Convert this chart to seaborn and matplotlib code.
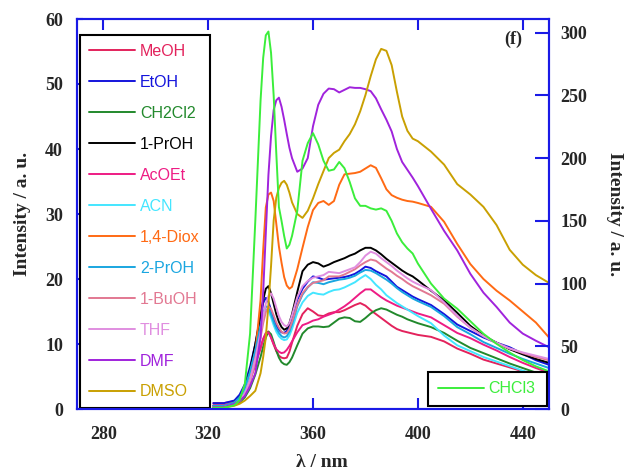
import matplotlib
matplotlib.use("Agg")
import matplotlib.pyplot as plt
import seaborn as sns

# Emission wavelength grid (nm)
wavelength = [322, 326, 330, 332, 334, 336, 338, 340, 341, 342,
              343, 344, 345, 346, 347, 348, 349, 350, 351, 352,
              354, 356, 358, 360, 362, 364, 366, 368, 370, 372,
              374, 376, 378, 380, 382, 384, 386, 388, 390, 392,
              394, 396, 398, 400, 405, 410, 415, 420, 425, 430,
              435, 440, 445, 450]

# Emission intensities (left axis, a.u.)
meoh = [0.9, 0.9, 1.2, 1.8, 2.8, 4.6, 7.0, 9.5, 10.8, 11.7,
        11.9, 11.0, 9.9, 8.9, 8.2, 7.9, 7.8, 7.9, 8.8, 10.2,
        12.8, 14.6, 15.5, 15.0, 14.4, 14.3, 14.7, 14.9, 14.9, 15.2,
        15.6, 16.0, 16.3, 15.9, 15.2, 14.6, 14.0, 13.4, 12.8, 12.3,
        12.0, 11.8, 11.6, 11.4, 11.1, 10.4, 9.3, 8.5, 7.6, 7.0,
        6.4, 5.8, 5.2, 4.7]
etoh = [0.9, 0.9, 1.3, 2.2, 3.8, 6.5, 10.0, 14.0, 16.3, 17.1,
        16.5, 15.2, 13.9, 12.9, 12.2, 11.8, 11.7, 12.0, 12.8, 14.0,
        16.8, 18.5, 19.6, 20.4, 20.2, 19.9, 20.0, 20.1, 20.2, 20.3,
        20.5, 20.8, 21.3, 21.9, 21.7, 21.2, 20.8, 20.4, 19.6, 18.8,
        18.3, 17.8, 17.3, 16.9, 16.0, 14.6, 13.0, 12.0, 11.0, 10.2,
        9.5, 8.5, 7.5, 6.8]
ch2cl2 = [0.3, 0.3, 0.6, 1.0, 1.8, 3.2, 5.3, 8.0, 9.6, 11.0,
          11.9, 11.5, 10.3, 9.0, 7.9, 7.2, 6.9, 6.8, 7.2, 7.9,
          9.8, 11.6, 12.4, 12.7, 12.7, 12.6, 12.7, 13.3, 13.9, 14.1,
          14.0, 13.5, 13.4, 14.0, 14.7, 15.2, 15.5, 15.3, 14.9, 14.5,
          14.2, 13.8, 13.5, 13.2, 12.6, 11.7, 10.5, 9.4, 8.6, 7.8,
          7.0, 6.3, 5.6, 5.0]
propanol1 = [0.5, 0.5, 1.0, 1.8, 3.2, 6.0, 10.0, 14.5, 16.8, 18.5,
             18.9, 17.8, 16.2, 14.6, 13.4, 12.6, 12.2, 12.4, 13.2, 14.6,
             18.0, 21.2, 22.2, 22.6, 22.4, 21.9, 22.2, 22.6, 22.9, 23.2,
             23.6, 23.9, 24.4, 24.8, 24.8, 24.4, 23.8, 23.1, 22.5, 21.9,
             21.3, 20.8, 20.4, 19.8, 18.2, 16.7, 14.8, 12.8, 11.3, 10.2,
             9.2, 8.4, 7.7, 7.1]
acoet = [0.6, 0.6, 1.0, 1.6, 2.6, 4.4, 6.8, 9.3, 10.7, 11.6,
         11.8, 11.0, 10.0, 9.2, 8.8, 8.6, 8.7, 9.1, 9.7, 10.4,
         11.8, 12.9, 13.2, 13.6, 13.8, 14.2, 14.5, 14.8, 15.3, 15.8,
         16.4, 17.1, 17.8, 18.4, 18.4, 17.8, 17.2, 16.7, 16.3, 15.9,
         15.6, 15.3, 15.0, 14.7, 14.1, 12.9, 11.7, 10.9, 9.9, 9.0,
         8.0, 7.1, 6.3, 5.6]
acn = [0.4, 0.4, 0.9, 1.6, 3.0, 5.5, 8.8, 12.5, 14.3, 15.3,
       15.1, 14.1, 12.9, 11.9, 11.2, 10.8, 10.6, 10.7, 11.3, 12.3,
       14.8, 16.4, 17.4, 17.9, 17.7, 17.6, 18.0, 18.3, 18.4, 18.7,
       19.1, 19.5, 20.1, 20.6, 20.0, 19.1, 18.4, 17.5, 16.9, 16.3,
       15.8, 15.3, 14.8, 14.3, 13.2, 11.3, 9.8, 8.9, 8.0, 7.3,
       6.6, 5.9, 5.3, 4.8]
dioxane = [0.3, 0.4, 0.8, 1.3, 2.2, 4.2, 8.5, 16.8, 24.5, 31.0,
           33.0, 33.3, 32.0, 28.5, 25.0, 22.5, 20.3, 19.0, 18.5, 18.8,
           21.5, 24.8, 28.0, 30.6, 31.7, 32.0, 31.4, 32.0, 34.5, 36.1,
           36.2, 36.3, 36.5, 37.0, 37.5, 37.1, 35.5, 33.8, 32.9, 32.5,
           32.2, 32.0, 31.9, 31.7, 31.1, 28.8, 25.4, 22.3, 20.0, 18.2,
           16.7, 15.0, 13.3, 11.0]
propanol2 = [0.5, 0.5, 1.0, 1.8, 3.2, 5.8, 9.0, 12.8, 14.8, 15.8,
             15.6, 14.6, 13.4, 12.4, 11.7, 11.2, 11.0, 11.2, 11.9, 13.0,
             15.8, 17.6, 18.7, 19.5, 19.4, 19.2, 19.5, 19.7, 19.9, 20.0,
             20.2, 20.5, 21.0, 21.4, 21.3, 20.9, 20.4, 19.9, 19.3, 18.6,
             18.0, 17.5, 17.0, 16.6, 15.7, 14.3, 12.6, 11.5, 10.3, 9.4,
             8.5, 7.7, 7.0, 6.3]
butanol1 = [0.3, 0.3, 0.7, 1.2, 2.2, 4.2, 7.2, 11.0, 13.2, 14.9,
            15.8, 15.4, 14.4, 13.3, 12.5, 11.9, 11.6, 11.7, 12.3, 13.4,
            16.0, 17.8, 18.8, 19.4, 19.6, 19.8, 20.4, 20.4, 20.4, 20.7,
            21.1, 21.5, 22.1, 22.6, 23.0, 22.8, 22.2, 21.6, 21.1, 20.5,
            20.0, 19.4, 18.9, 18.5, 17.5, 16.2, 14.2, 12.5, 11.2, 10.1,
            9.3, 8.6, 8.0, 7.5]
thf = [0.3, 0.3, 0.7, 1.3, 2.4, 4.5, 7.8, 11.8, 14.2, 16.2,
       17.4, 17.8, 17.0, 15.6, 14.3, 13.4, 12.9, 12.7, 13.2, 14.4,
       17.2, 18.9, 19.7, 20.2, 20.4, 20.6, 21.1, 21.0, 20.9, 21.2,
       21.5, 21.8, 22.6, 23.6, 24.2, 23.9, 23.2, 22.6, 22.0, 21.3,
       20.7, 20.1, 19.6, 19.2, 18.3, 16.4, 14.3, 12.5, 11.2, 10.2,
       9.3, 8.7, 8.2, 7.7]
dmf = [0.3, 0.3, 0.8, 1.2, 2.0, 3.5, 5.5, 11.0, 18.0, 27.0,
       36.0, 42.0, 46.0, 47.5, 47.9, 46.5, 44.5, 42.3, 40.2, 38.6,
       36.5, 37.0, 38.6, 43.5, 46.8, 48.5, 49.3, 49.2, 48.7, 49.1,
       49.5, 49.4, 49.4, 49.2, 48.9, 47.8, 46.1, 44.5, 42.7, 40.0,
       38.0, 36.8, 35.6, 34.3, 30.8, 27.4, 24.4, 20.8, 17.9, 15.7,
       13.3, 11.6, 10.5, 9.5]
dmso = [0.2, 0.2, 0.5, 0.8, 1.3, 2.0, 2.8, 5.5, 8.0, 11.0,
        16.0, 22.0, 29.0, 32.5, 34.0, 34.8, 35.1, 34.5, 33.3, 31.8,
        30.0, 29.4, 30.5, 32.4, 34.6, 36.6, 38.6, 39.4, 39.9, 41.2,
        42.3, 43.8, 45.8, 48.3, 51.2, 53.8, 55.4, 55.1, 52.9, 48.8,
        45.0, 42.8, 41.6, 41.2, 39.6, 37.6, 34.6, 33.0, 31.1, 28.3,
        24.5, 22.2, 20.6, 19.4]

# Chloroform is read on the right-hand axis
chcl3 = [1, 1, 3, 7, 20, 60, 150, 246, 280, 298,
         301, 284, 250, 204, 161, 150, 138, 128, 131, 138,
         158, 198, 212, 220, 211, 198, 190, 191, 197, 192,
         181, 168, 162, 162, 160, 159, 160, 158, 150, 140,
         133, 128, 124, 116, 100, 88, 80, 70, 60, 52,
         45, 39, 34, 30]

solvents = ["MeOH", "EtOH", "CH2Cl2", "1-PrOH", "AcOEt", "ACN",
            "1,4-Diox", "2-PrOH", "1-BuOH", "THF", "DMF", "DMSO"]
series = [meoh, etoh, ch2cl2, propanol1, acoet, acn,
          dioxane, propanol2, butanol1, thf, dmf, dmso]
colors = ["#E3225C", "#1414DC", "#22892C", "#000000", "#EE1C84", "#44E6FF",
          "#FF6A14", "#1AA6E0", "#E27892", "#E08EE0", "#A023DC", "#C9A002"]
chcl3_color = "#3BEE3B"

x_ticks = [280, 320, 360, 400, 440]
left_ticks = [0, 10, 20, 30, 40, 50, 60]
right_ticks = [0, 50, 100, 150, 200, 250, 300]

axis_blue = "#1A1AE6"

sns.set_style("ticks")
plt.rcParams["font.family"] = ["Liberation Serif", "DejaVu Serif"]
plt.rcParams["font.weight"] = "bold"

W, H = 624, 473
fig = plt.figure(figsize=(W / 100, H / 100), dpi=100, facecolor="white")
L, R, T, B = 77, 549, 19, 409
ax = fig.add_axes([L / W, 1 - B / H, (R - L) / W, (B - T) / H])
ax2 = ax.twinx()

for name, vals, col in zip(solvents, series, colors):
    sns.lineplot(x=wavelength, y=vals, ax=ax, color=col, linewidth=1.4,
                 errorbar=None, legend=False)
sns.lineplot(x=wavelength, y=chcl3, ax=ax2, color=chcl3_color, linewidth=1.4,
             errorbar=None, legend=False)

ax.set_xlim(270, 450)
ax.set_ylim(0, 60)
ax2.set_ylim(0, 311)
ax.set_xticks(x_ticks)
ax.set_yticks(left_ticks)
ax2.set_yticks(right_ticks)

for a in (ax, ax2):
    for sp in a.spines.values():
        sp.set_color(axis_blue)
        sp.set_linewidth(1.5)

ax.tick_params(axis="x", direction="in", length=8, width=1.5, color=axis_blue,
               top=True, bottom=True, pad=12, labelsize=13)
ax.tick_params(axis="y", direction="in", length=4, width=1.5, color=axis_blue,
               left=True, right=False, pad=10, labelsize=13)
ax2.tick_params(axis="y", direction="in", length=10, width=1.5, color=axis_blue,
                pad=8, labelsize=13)

ax.set_xlabel("λ / nm", fontsize=14, fontweight="bold")
ax.xaxis.label.set_va("center")
ax.xaxis.set_label_coords((322 - L) / (R - L), -(462 - B) / (B - T))
ax.set_ylabel("Intensity / a. u.", fontsize=14, fontweight="bold")
ax.yaxis.label.set_va("center")
ax.yaxis.set_label_coords((23 - L) / (R - L), 0.5)
ax2.set_ylabel("Intensity / a. u.", fontsize=14, fontweight="bold", rotation=270)
ax2.yaxis.label.set_va("center")
ax2.yaxis.set_label_coords((614 - L) / (R - L), 0.5)

ax.text((513 - L) / (R - L), (B - 39) / (B - T), "(f)", transform=ax.transAxes,
        ha="center", va="center", fontsize=13, fontweight="bold")

legend_font = {"family": ["Liberation Sans", "DejaVu Sans"], "size": 11.5,
               "weight": "normal"}
leg = ax.legend(ax.get_lines()[:len(solvents)], solvents, loc="upper left",
                bbox_to_anchor=((80 - L) / (R - L), (B - 35) / (B - T),
                                130 / (R - L), 0),
                mode="expand", borderaxespad=0, prop=legend_font,
                labelcolor="linecolor", handlelength=2.9, handletextpad=0.3,
                labelspacing=1.0, borderpad=0.55, fancybox=False,
                framealpha=1, edgecolor="black")
leg.get_frame().set_linewidth(1.5)

leg2 = ax2.legend(ax2.get_lines()[:1], ["CHCl3"], loc="lower left",
                  bbox_to_anchor=((428 - L) / (R - L), (B - 406) / (B - T),
                                  119 / (R - L), 0),
                  mode="expand", borderaxespad=0, prop=legend_font,
                  labelcolor="linecolor", handlelength=2.9, handletextpad=0.3,
                  borderpad=0.6, fancybox=False, framealpha=1,
                  edgecolor="black")
leg2.get_frame().set_linewidth(1.5)

fig.savefig("out.png", dpi=100, facecolor="white")
